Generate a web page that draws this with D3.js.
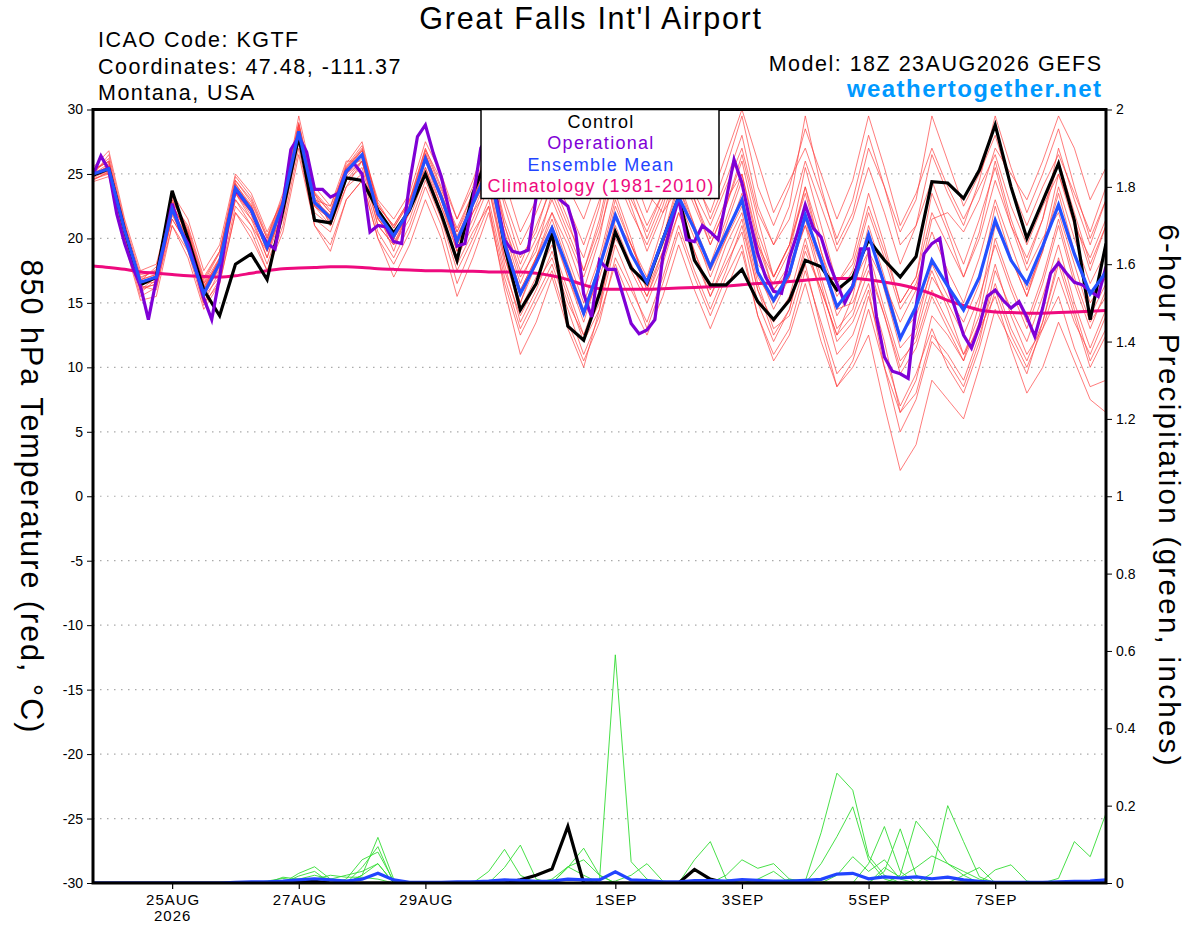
<!DOCTYPE html>
<html>
<head>
<meta charset="utf-8">
<script src="https://cdnjs.cloudflare.com/ajax/libs/d3/7.8.5/d3.min.js"></script>
<style>
  body { margin: 0; background: #fff; }
  svg { display: block; font-family: "Liberation Sans", Arial, sans-serif; }
</style>
</head>
<body>
<svg id="chart" width="1200" height="927"></svg>
<script>

// run start 18Z 23AUG2026, 6-hourly steps (operational is 3-hourly)
const runStart = Date.UTC(2026, 7, 23, 18);

const xTickDays = [[2026,7,25],[2026,7,27],[2026,7,29],[2026,8,1],[2026,8,3],[2026,8,5],[2026,8,7]];
const tempTicks = [-30,-25,-20,-15,-10,-5,0,5,10,15,20,25,30];
const precipTicks = [0,0.2,0.4,0.6,0.8,1,1.2,1.4,1.6,1.8,2];
const legendLabels = ["Control", "Operational", "Ensemble Mean", "Climatology (1981-2010)"];

const control = [
  24.9,25.4,20.6,16.4,17.0, 23.7,20.0,16.0,14.0,18.0, 18.8,16.8,22.2,27.9,21.4,
  21.2,24.7,24.5,22.2,20.4, 22.2,25.0,21.9,18.3,23.5, 26.5,19.4,14.45,16.5,20.4,
  13.2,12.1,15.7,20.5,17.7, 16.5,19.9,23.2,18.3,16.4, 16.4,17.6,15.1,13.7,15.2,
  18.3,17.8,16.0,17.0,19.9, 18.3,17.0,18.6,24.4,24.3, 23.1,25.3,28.8,24.0,20.0,
  22.9,25.8,21.4,13.7,19.6
];

const ensMean = [
  25.0,25.4,20.6,16.6,17.0, 22.3,19.3,15.7,18.1,23.9, 22.2,19.3,22.7,28.3,22.8,
  21.6,25.2,26.5,21.9,20.2, 22.3,26.2,23.2,19.8,22.7, 25.5,19.6,15.7,18.1,20.8,
  17.6,14.2,17.8,21.8,18.8, 16.6,19.9,23.2,20.7,17.8, 20.4,23.0,17.4,15.2,17.3,
  21.8,18.3,14.7,16.3,20.3, 16.4,12.25,14.7,18.3,16.3, 14.45,17.0,21.4,18.3,16.5,
  19.4,22.6,18.8,15.7,17.4
];

const climatology = [
  17.87,17.75,17.6,17.4,17.3, 17.2,17.1,17.05,17.0,17.1, 17.3,17.5,17.65,17.7,17.75,
  17.8,17.8,17.75,17.65,17.6, 17.55,17.5,17.5,17.45,17.45, 17.4,17.4,17.4,17.3,17.1,
  16.8,16.4,16.1,16.05,16.05, 16.05,16.1,16.15,16.2,16.25, 16.3,16.4,16.5,16.55,16.65,
  16.75,16.85,16.9,16.9,16.8, 16.6,16.4,16.1,15.7,15.2, 14.8,14.45,14.3,14.25,14.2,
  14.2,14.25,14.3,14.35,14.4
];

// operational, 3-hourly
const operational = [
  24.9,26.4,25.3,21.9,19.6,17.8,16.3,13.7,16.8,19.6,
  22.7,20.7,19.6,17.6,15.35,13.7,17.0,20.9,23.8,23.0,
  22.2,20.7,19.6,19.2,22.7,26.9,27.9,26.7,23.8,23.8,
  23.2,23.5,25.2,25.8,25.0,20.5,21.0,20.9,19.75,19.6,
  24.3,27.9,28.8,26.6,24.8,22.2,19.4,19.6,23.0,27.0,
  28.0,23.0,19.9,19.0,18.85,19.1,23.2,25.5,27.5,23.0,
  22.5,20.4,15.7,13.9,18.3,17.6,17.6,15.5,13.4,12.6,
  12.9,13.7,18.6,20.9,23.1,19.9,19.75,21.0,20.5,19.9,
  23.0,26.1,24.3,21.4,18.8,17.0,15.9,15.75,18.5,20.4,
  22.6,20.8,20.1,18.1,16.5,15.0,16.3,19.2,19.2,13.9,
  10.8,9.7,9.5,9.15,14.7,18.8,19.6,20.0,16.4,14.45,
  12.5,11.5,13.2,15.5,16.0,15.2,14.6,15.1,13.9,12.4,
  14.6,17.3,18.1,17.3,16.6,16.4,15.9,15.5,17.8
];

const tempMembers = [
  [25.3,26.0,21.0,17.0,17.5, 23.0,20.5,16.5,18.5, 24.5,23.0,20.0,23.5, 29.0,23.5,22.0,25.8, 27.5,22.5,21.0,23.0, 27.0,24.0,20.5,23.5, 27.0,21.0,17.5,20.0, 23.0,20.0,17.0,20.5, 25.0,22.0,19.5,22.5, 26.5,23.5,21.0,24.0, 27.0,22.0,19.5,21.5, 26.0,22.5,19.0,21.5, 25.5,22.0,18.0,21.0, 26.5,23.5,21.0,24.5, 29.5,25.5,22.0,25.0, 28.5,24.0,20.0,23.0],
  [24.6,25.0,20.2,16.0,16.5, 21.5,19.5,15.0,17.5, 23.0,21.5,18.5,22.0, 28.0,22.0,21.0,24.5, 25.5,21.0,19.5,21.5, 25.0,22.0,18.5,21.0, 24.0,18.0,13.5,16.0, 19.0,15.5,12.0,14.5, 19.5,16.5,13.0,16.5, 20.5,17.0,14.0,17.0, 19.5,14.0,11.0,13.0, 17.5,13.5,9.5,11.0, 15.5,11.0,7.0,9.5, 13.0,10.0,8.0,11.5, 16.0,12.5,10.0,13.0, 17.0,13.5,11.0,14.0],
  [25.5,26.8,21.5,17.5,18.0, 22.8,21.0,17.0,19.0, 24.0,22.5,19.5,22.5, 28.5,23.0,22.5,26.0, 26.0,21.5,20.0,22.0, 26.5,23.0,19.0,22.0, 25.0,20.5,16.5,19.5, 22.0,18.5,15.0,18.5, 23.5,20.0,16.0,19.0, 23.0,20.0,17.5,21.0, 24.5,18.0,16.5,19.0, 24.0,20.0,16.5,18.5, 23.5,19.5,15.0,17.0, 22.0,19.5,17.0,20.0, 24.5,21.0,18.5,21.5, 26.0,22.0,18.0,21.0],
  [24.8,25.6,20.0,15.8,16.8, 22.0,19.0,15.5,17.0, 23.5,21.8,18.5,22.8, 28.0,23.5,21.0,24.0, 26.0,22.0,19.0,22.5, 26.0,22.5,19.0,21.5, 24.5,18.5,14.5,17.0, 19.5,16.0,12.5,16.0, 20.5,17.5,15.0,18.0, 22.0,18.5,15.5,18.5, 21.5,16.0,13.5,15.5, 20.0,15.5,11.0,12.5, 16.0,10.0,5.0,7.5, 12.0,10.5,8.5,12.0, 17.5,14.5,12.0,15.5, 19.5,15.0,11.5,14.5],
  [25.0,25.8,21.2,17.2,17.4, 23.5,21.5,17.5,19.5, 25.0,23.5,20.5,23.0, 29.5,24.0,22.5,25.5, 27.0,23.0,21.5,23.5, 27.5,25.0,21.5,24.5, 28.0,23.0,19.5,22.0, 25.0,22.5,19.5,23.0, 28.0,24.0,21.0,23.5, 27.0,23.0,19.5,22.5, 26.0,20.5,17.0,19.5, 24.0,19.0,15.5,17.5, 22.0,18.5,14.5,16.5, 20.5,17.5,15.0,18.5, 23.0,19.5,16.0,19.0, 23.5,19.0,15.0,17.0],
  [24.5,25.2,19.8,15.5,16.2, 21.0,19.0,14.8,16.8, 22.5,21.0,18.0,21.5, 27.5,21.5,20.5,24.0, 25.0,20.5,18.5,21.0, 24.5,21.5,17.5,20.0, 23.0,17.5,14.0,16.5, 18.5,15.0,12.5,15.0, 20.0,18.0,15.5,19.0, 23.5,20.5,18.0,21.5, 25.0,19.5,17.0,19.5, 23.5,19.0,14.5,15.0, 18.0,14.0,10.0,12.5, 17.0,15.0,12.5,15.5, 19.5,16.0,13.0,16.5, 21.0,16.5,13.0,16.0],
  [25.2,26.2,20.8,16.8,17.2, 22.5,20.5,16.0,18.5, 24.0,22.5,19.0,22.5, 28.5,22.5,21.5,25.0, 26.5,22.0,20.0,22.5, 26.5,23.5,20.0,23.0, 26.5,21.5,18.0,21.0, 24.0,21.0,18.5,22.5, 29.0,25.5,22.0,25.0, 28.0,24.5,22.0,25.5, 29.5,24.0,21.0,24.0, 28.5,25.0,21.5,24.5, 29.5,25.5,21.0,23.5, 27.0,24.0,21.5,24.0, 26.5,22.5,19.5,22.5, 25.0,21.0,18.5,21.5],
  [24.7,25.3,20.5,16.3,16.0, 21.8,19.5,15.0,16.5, 22.0,20.0,17.5,20.5, 26.5,21.0,19.5,23.0, 24.5,20.0,17.0,19.5, 23.0,20.0,15.5,18.5, 22.0,16.5,12.5,15.0, 17.5,13.5,10.5,13.5, 18.5,16.0,13.5,17.0, 21.0,17.5,14.5,17.5, 21.0,16.0,12.5,14.5, 19.0,16.0,12.5,14.0, 17.5,14.0,9.5,11.5, 15.5,13.0,10.5,13.5, 18.0,14.0,11.0,13.0, 15.5,11.5,8.5,9.0],
  [25.1,25.5,20.3,16.7,17.8, 22.5,19.8,16.2,18.0, 23.5,21.5,19.8,23.0, 28.8,23.0,21.8,25.5, 26.8,22.0,20.5,22.0, 25.5,22.5,19.5,22.5, 25.0,19.0,15.0,18.0, 21.0,17.0,13.5,17.5, 22.0,19.0,16.0,20.0, 24.5,21.0,17.5,20.0, 22.5,17.0,15.0,17.0, 22.0,18.5,14.0,16.0, 20.5,16.0,11.5,13.0, 18.0,15.5,13.5,16.5, 22.5,18.5,15.5,19.0, 24.0,20.0,16.5,19.0],
  [25.0,25.0,20.8,16.5,16.6, 22.0,20.0,15.5,17.8, 23.5,22.0,19.0,22.0, 28.0,22.5,21.5,25.0, 26.0,21.5,20.0,22.0, 26.0,23.0,19.5,22.5, 25.0,19.5,15.5,18.5, 20.5,17.0,14.0,17.0, 21.0,18.0,15.5,18.5, 22.0,19.0,16.0,19.5, 22.0,16.5,13.0,14.0, 18.0,13.0,8.5,10.0, 12.5,7.0,2.0,4.0, 9.0,7.5,6.0,10.0, 14.5,12.0,9.5,13.5, 18.0,14.0,10.0,12.5],
  [24.9,26.5,21.2,16.2,16.4, 23.0,20.8,16.8,19.0, 24.5,22.8,20.0,23.0, 28.2,22.8,21.8,25.0, 26.5,22.5,21.0,23.0, 26.0,23.0,19.5,22.0, 24.0,18.5,15.0,18.5, 22.0,19.5,16.0,20.0, 26.0,22.5,19.0,22.0, 25.5,22.5,19.5,22.5, 26.5,21.5,17.0,19.5, 25.5,21.0,16.5,18.0, 22.5,19.0,15.0,17.0, 23.5,20.5,17.0,20.5, 26.0,21.5,18.0,21.5, 27.0,23.0,19.5,23.0],
  [25.4,25.9,20.0,16.0,17.0, 21.5,19.5,16.5,18.0, 23.0,21.0,19.0,22.0, 28.0,22.5,21.0,24.5, 26.0,21.0,19.5,22.0, 26.5,23.5,20.5,23.0, 26.0,20.0,16.0,18.5, 21.5,18.0,14.5,18.0, 23.0,19.5,16.5,20.0, 24.0,20.5,17.0,20.0, 23.5,17.5,14.5,17.0, 21.5,17.0,13.0,14.5, 19.0,14.5,10.5,12.0, 16.0,13.5,11.0,14.0, 20.0,16.5,13.5,17.0, 21.5,17.0,13.5,15.5],
  [24.8,25.7,20.7,16.8,17.2, 22.8,20.0,16.0,18.2, 24.2,22.0,19.5,22.8, 28.6,23.2,21.2,25.3, 26.8,22.8,20.8,22.8, 26.8,23.8,20.8,23.5, 27.5,22.5,18.5,20.5, 24.5,21.5,17.5,21.0, 26.5,23.0,20.5,23.5, 29.5,25.0,21.5,24.5, 28.0,22.5,19.5,22.5, 29.5,24.0,19.5,22.0, 27.0,24.0,20.5,23.0, 29.5,26.0,22.5,25.0, 28.0,24.0,21.0,24.0, 26.5,23.5,20.5,24.0],
  [24.4,24.8,19.6,15.2,15.5, 21.0,18.5,14.5,16.5, 22.0,20.5,17.5,21.0, 27.0,21.0,19.0,23.0, 24.5,20.0,18.0,20.5, 24.0,21.0,16.5,19.5, 22.5,17.0,13.0,15.5, 18.0,14.5,11.0,14.0, 18.0,15.0,12.5,15.5, 19.5,16.0,13.0,16.0, 19.0,14.0,10.5,12.5, 16.5,12.0,8.5,10.5, 14.5,10.0,6.5,8.0, 12.5,11.0,9.0,12.5, 16.5,13.0,10.5,13.5, 18.5,14.5,10.5,13.0],
  [25.0,25.6,20.4,16.4,16.9, 22.6,20.3,16.3,18.3, 24.2,22.6,19.6,22.9, 28.8,23.4,22.0,25.6, 27.2,22.6,20.8,22.9, 26.9,24.5,21.5,24.0, 28.5,24.5,20.5,23.0, 26.5,24.0,21.5,25.0, 30.0,27.0,23.5,22.0, 24.0,21.0,18.0,20.5, 23.0,19.5,16.0,18.0, 21.0,18.0,14.5,16.5, 19.0,16.5,13.5,16.0, 21.5,22.0,20.5,23.0, 27.0,25.0,23.0,26.0, 29.5,27.0,23.0,25.5],
  [24.6,25.1,20.9,16.9,17.6, 23.2,20.6,16.6,18.9, 24.8,23.2,20.2,23.2, 28.9,23.6,22.2,25.4, 26.9,22.2,20.2,22.2, 25.5,22.0,18.0,20.5, 22.5,16.0,11.0,13.5, 17.0,13.0,10.0,14.5, 21.5,19.5,17.0,21.0, 26.0,23.0,20.0,23.0, 25.0,20.0,16.0,17.5, 21.0,16.5,12.0,13.5, 16.5,12.0,6.5,9.0, 14.0,12.5,10.5,15.0, 21.0,18.5,15.5,19.5, 25.0,21.5,17.5,21.0],
  [25.2,26.0,21.0,16.6,17.0, 22.0,20.2,16.2,18.4, 24.3,22.3,19.3,22.6, 28.4,22.6,21.6,25.2, 26.2,21.8,20.0,22.6, 26.6,23.2,19.8,23.0, 26.0,21.0,17.0,19.0, 23.5,20.5,17.5,21.5, 27.0,23.5,20.0,23.0, 27.5,25.0,23.0,26.5, 30.0,26.0,22.0,24.5, 27.0,23.5,20.0,23.0, 28.0,24.0,19.5,21.0, 24.5,21.0,18.0,21.5, 25.5,21.0,17.5,20.0, 22.0,18.0,14.0,16.5],
  [24.9,25.2,20.6,16.6,16.8, 22.4,19.6,15.8,17.6, 23.6,22.0,19.2,22.4, 28.4,22.8,21.4,24.8, 26.0,21.6,19.6,22.2, 26.2,23.4,20.2,22.8, 25.5,20.0,16.0,18.5, 21.0,17.5,14.0,17.5, 22.5,19.5,16.5,19.5, 23.0,19.0,15.5,18.0, 20.5,15.0,12.0,14.5, 19.5,16.0,12.5,15.5, 21.0,17.0,12.5,14.0, 17.5,14.5,11.0,13.0, 15.5,11.5,8.0,10.0, 13.5,10.5,7.5,6.5]
];

const controlPrecip = [
  0,0,0,0,0, 0,0,0,0,0, 0,0,0.003,0.005,0.004, 0,0,0,0,0, 0,0,0,0,0,
  0,0,0.008,0.02,0.036, 0.146,0,0,0,0, 0,0,0,0.035,0.01, 0,0,0,0,0,
  0,0,0,0,0, 0,0,0,0,0, 0,0,0,0,0, 0,0,0,0,0
];

const meanPrecip = [
  0,0,0,0,0, 0,0,0,0,0.002, 0.003,0.003,0.005,0.008,0.011, 0.008,0.005,0.01,0.025,0.008,
  0.002,0.002,0.002,0.003,0.003, 0.005,0.008,0.007,0.004,0.005, 0.01,0.008,0.008,0.029,0.008,
  0.006,0.003,0.003,0.006,0.006, 0.005,0.009,0.007,0.005,0.005, 0.007,0.0095,0.023,0.025,0.011,
  0.016,0.013,0.016,0.011,0.015, 0.008,0.004,0.002,0.002,0.002, 0.002,0.003,0.004,0.005,0.008
];

const precipMembers = [
  [0,0,0,0,0, 0,0,0,0,0, 0,0,0,0,0, 0,0,0.02,0.118,0.01, 0,0,0,0,0, 0,0,0,0,0, 0,0,0.008,0.59,0.055, 0.01,0,0,0,0, 0,0,0,0,0, 0,0,0,0,0, 0,0,0,0,0, 0,0,0,0,0, 0,0,0,0,0],
  [0,0,0,0,0, 0,0,0,0,0, 0,0,0,0.025,0.042, 0.01,0,0.04,0.094,0, 0,0,0,0,0, 0,0,0,0,0, 0,0,0,0,0, 0,0,0,0,0, 0,0,0,0,0, 0.005,0.13,0.284,0.24,0.07, 0.02,0,0,0,0, 0,0,0,0,0, 0,0,0,0,0],
  [0,0,0,0,0, 0,0,0,0,0, 0,0.005,0.012,0.005,0, 0,0.01,0.06,0.08,0.005, 0,0,0,0,0, 0,0,0,0,0, 0,0,0,0,0, 0,0,0,0,0, 0,0,0,0,0, 0,0.05,0.12,0.197,0.06, 0.01,0,0,0,0, 0,0,0,0,0, 0,0,0,0,0],
  [0,0,0,0,0, 0,0,0,0,0, 0,0,0.015,0.01,0, 0,0,0,0,0, 0,0,0,0,0, 0.03,0.087,0.02,0,0, 0,0,0,0,0, 0,0,0,0,0, 0,0,0,0,0, 0,0,0,0,0, 0,0,0,0.025,0.2, 0.107,0.016,0,0,0, 0,0,0,0,0],
  [0,0,0,0,0, 0,0,0,0,0, 0,0,0,0,0, 0,0,0,0,0, 0,0,0,0,0, 0,0.04,0.098,0.01,0, 0.04,0.09,0.02,0,0, 0,0,0,0,0, 0,0,0,0,0, 0,0,0,0,0.05, 0.146,0.03,0,0,0, 0,0,0,0,0, 0,0,0,0,0],
  [0,0,0,0,0, 0,0,0,0,0, 0,0,0,0.01,0.02, 0.01,0.02,0.03,0.05,0, 0,0,0,0,0, 0,0,0,0,0, 0.042,0.06,0.02,0,0, 0,0,0,0.06,0.107, 0.01,0,0,0,0, 0,0,0,0,0, 0.03,0.14,0.02,0,0, 0,0,0,0,0, 0,0,0,0,0],
  [0,0,0,0,0, 0,0,0,0,0, 0,0,0,0,0, 0,0,0,0,0, 0,0,0,0,0, 0,0,0,0,0, 0,0,0,0,0, 0,0,0,0,0, 0.02,0.06,0.038,0.05,0.01, 0,0,0,0,0, 0,0.02,0.16,0.11,0.05, 0.02,0,0,0,0, 0,0.012,0.107,0.068,0.18],
  [0,0,0,0,0, 0,0,0,0,0, 0,0,0,0.018,0.03, 0,0,0,0,0, 0,0,0,0,0.005, 0,0,0,0,0, 0,0,0,0.005,0.02, 0.05,0.005,0,0,0, 0,0,0,0,0.01, 0.005,0,0,0,0, 0,0,0,0,0, 0,0,0.034,0.047,0.005, 0,0,0,0,0],
  [0,0,0,0,0, 0,0,0,0,0, 0,0,0,0,0, 0,0,0.02,0.05,0, 0,0,0,0,0, 0,0,0,0,0, 0,0,0,0,0, 0,0,0,0,0, 0,0,0.01,0.03,0, 0,0,0.02,0.068,0.03, 0.06,0.01,0,0,0, 0.02,0.04,0,0,0, 0,0,0,0,0],
  [0,0,0,0,0, 0,0,0,0,0, 0,0,0,0,0.01, 0.02,0.015,0.015,0.01,0, 0,0,0,0,0, 0,0,0,0,0.01, 0.042,0.02,0,0,0, 0,0,0,0,0, 0,0,0,0,0, 0,0,0,0,0, 0.04,0.015,0.04,0.07,0.05, 0.03,0.01,0,0,0, 0,0,0,0,0]
];

const svg = d3.select("#chart");
const plotLeft = 93, plotRight = 1106, plotTop = 109.5, plotBottom = 883;

const at6 = i => new Date(runStart + i * 6 * 3600 * 1000);
const at3 = k => new Date(runStart + k * 3 * 3600 * 1000);

const x = d3.scaleUtc().domain([at6(0), at6(64)]).range([plotLeft, plotRight]);
const yT = d3.scaleLinear().domain([-30, 30]).range([plotBottom, plotTop]);
const yP = d3.scaleLinear().domain([0, 2]).range([plotBottom, plotTop]);

svg.append("defs").append("clipPath").attr("id", "plot")
  .append("rect").attr("x", plotLeft).attr("y", plotTop)
  .attr("width", plotRight - plotLeft).attr("height", plotBottom - plotTop);

// grid
svg.append("g").selectAll("line")
  .data(tempTicks.filter(d => d > -30 && d < 30))
  .join("line")
  .attr("x1", plotLeft).attr("x2", plotRight)
  .attr("y1", d => yT(d)).attr("y2", d => yT(d))
  .attr("stroke", "#aaa").attr("stroke-width", 1.2)
  .attr("stroke-dasharray", "1.5,5.5");

const plot = svg.append("g").attr("clip-path", "url(#plot)");

const tLine = d3.line().x((d, i) => x(at6(i))).y(d => yT(d));
const climLine = d3.line().x((d, i) => x(at6(i))).y(d => yT(d)).curve(d3.curveMonotoneX);
const opLine = d3.line().x((d, i) => x(at3(i))).y(d => yT(d));
const pLine = d3.line().x((d, i) => x(at6(i))).y(d => yP(d));

plot.append("g").selectAll("path").data(tempMembers).join("path")
  .attr("d", tLine).attr("fill", "none")
  .attr("stroke", "#ff3b3b").attr("stroke-opacity", 0.75).attr("stroke-width", 0.9);

plot.append("g").selectAll("path").data(precipMembers).join("path")
  .attr("d", pLine).attr("fill", "none")
  .attr("stroke", "#33dd33").attr("stroke-width", 0.9);

plot.append("path").datum(controlPrecip).attr("d", pLine)
  .attr("fill", "none").attr("stroke", "#000").attr("stroke-width", 3.2);
plot.append("path").datum(meanPrecip).attr("d", pLine)
  .attr("fill", "none").attr("stroke", "#2244ff").attr("stroke-width", 3.2);

plot.append("path").datum(climatology).attr("d", climLine)
  .attr("fill", "none").attr("stroke", "#ee0a7e").attr("stroke-width", 3);

plot.append("path").datum(control).attr("d", tLine)
  .attr("fill", "none").attr("stroke", "#000").attr("stroke-width", 3.2);
plot.append("path").datum(operational).attr("d", opLine)
  .attr("fill", "none").attr("stroke", "#7f00d6").attr("stroke-width", 3.2);
plot.append("path").datum(ensMean).attr("d", tLine)
  .attr("fill", "none").attr("stroke", "#2450ff").attr("stroke-width", 3.2);

// axes
const xTicks = xTickDays.map(d => new Date(Date.UTC(d[0], d[1], d[2])));
const xAxis = svg.append("g").attr("transform", `translate(0,${plotBottom})`)
  .call(d3.axisBottom(x).tickValues(xTicks).tickSize(6).tickPadding(5)
    .tickFormat(d => d3.utcFormat("%-d%b")(d).toUpperCase()));
xAxis.select(".domain").remove();
xAxis.selectAll("text").attr("font-size", 15).attr("fill", "#000")
  .attr("letter-spacing", 1).attr("dx", 0.5)
  .attr("font-family", "Liberation Sans, Arial, sans-serif");
xAxis.selectAll("line").attr("stroke-width", 1.2);
svg.append("text").attr("x", x(xTicks[0]) + 0.5).attr("y", 921)
  .attr("text-anchor", "middle").attr("font-size", 15).attr("letter-spacing", 1).text("2026");

const yAxisL = svg.append("g").attr("transform", `translate(${plotLeft},0)`)
  .call(d3.axisLeft(yT).tickValues(tempTicks).tickSize(6).tickPadding(4).tickFormat(d => String(d)));
yAxisL.select(".domain").remove();
yAxisL.selectAll("text").attr("font-size", 14).attr("fill", "#000")
  .attr("font-family", "Liberation Sans, Arial, sans-serif");

const yAxisR = svg.append("g").attr("transform", `translate(${plotRight},0)`)
  .call(d3.axisRight(yP).tickValues(precipTicks).tickSize(6).tickPadding(4)
    .tickFormat(d => String(Math.round(d * 10) / 10)));
yAxisR.select(".domain").remove();
yAxisR.selectAll("text").attr("font-size", 14).attr("fill", "#000")
  .attr("font-family", "Liberation Sans, Arial, sans-serif");

// frame
svg.append("rect").attr("x", plotLeft).attr("y", plotTop)
  .attr("width", plotRight - plotLeft).attr("height", plotBottom - plotTop)
  .attr("fill", "none").attr("stroke", "#000").attr("stroke-width", 3);

// legend
const legendColors = ["#000", "#7f00d6", "#2244ff", "#ee0a7e"];
svg.append("rect").attr("x", 481).attr("y", plotTop).attr("width", 238).attr("height", 89)
  .attr("fill", "#fff").attr("stroke", "#000").attr("stroke-width", 1.5);
svg.append("g").selectAll("text").data(legendLabels).join("text")
  .attr("x", 601).attr("y", (d, i) => 127.5 + i * 21.5)
  .attr("text-anchor", "middle").attr("font-size", 18).attr("letter-spacing", 1.3)
  .attr("fill", (d, i) => legendColors[i]).text(d => d);

// headers
svg.append("text").attr("x", 591).attr("y", 29).attr("text-anchor", "middle")
  .attr("font-size", 30.5).attr("letter-spacing", 1.7).text("Great Falls Int'l Airport");
svg.append("g").selectAll("text")
  .data(["ICAO Code: KGTF", "Coordinates: 47.48, -111.37", "Montana, USA"]).join("text")
  .attr("x", 98).attr("y", (d, i) => 47 + i * 26.5).attr("font-size", 21.5)
  .attr("letter-spacing", 1.5).text(d => d);
svg.append("text").attr("x", 1102.5).attr("y", 71).attr("text-anchor", "end")
  .attr("font-size", 21.5).attr("letter-spacing", 1.5).text("Model: 18Z 23AUG2026 GEFS");
svg.append("text").attr("x", 1102.5).attr("y", 97).attr("text-anchor", "end")
  .attr("font-size", 24).attr("font-weight", "bold").attr("fill", "#0099ff")
  .attr("letter-spacing", 1.45).text("weathertogether.net");

// axis titles
svg.append("text").attr("transform", "translate(21,497) rotate(90)")
  .attr("text-anchor", "middle").attr("font-size", 30.5).attr("letter-spacing", 2)
  .text("850 hPa Temperature (red, \u00B0C)");
svg.append("text").attr("transform", "translate(1159,496) rotate(90)")
  .attr("text-anchor", "middle").attr("font-size", 29.5).attr("letter-spacing", 2.3)
  .text("6-hour Precipitation (green, inches)");

</script>
</body>
</html>
